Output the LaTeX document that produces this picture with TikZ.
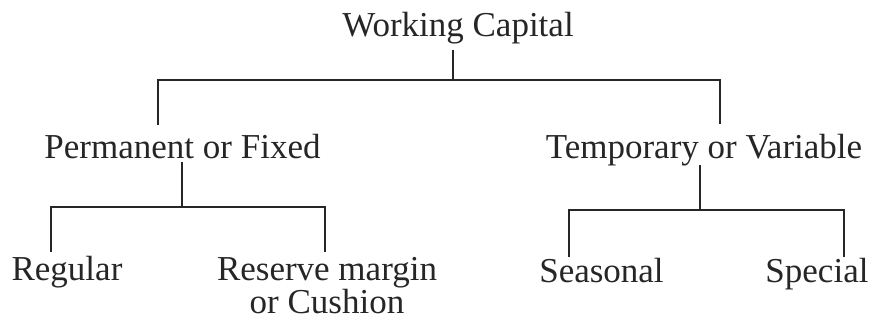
\documentclass[tikz,border=0pt]{standalone}
\usepackage{fontspec}
\setmainfont{Liberation Serif}
\usepackage{tikz}
\usetikzlibrary{positioning}
\tikzstyle{line} = [line width=1.1pt, black!85]
\tikzstyle{lbl} = [inner sep=0pt, anchor=base, font=\fontsize{17.5}{16.5}\selectfont, text=black!85]

\begin{document}
\begin{tikzpicture}[x=0.5pt, y=-0.5pt]
		\useasboundingbox (0,0) rectangle (869,329);
		\node (wc) [lbl] at (458,36) {Working Capital};
		\node (pf) [lbl] at (182.5,158) {Permanent or Fixed};
		\node (tv) [lbl] at (704,158) {Temporary or Variable};
		\node (rg) [lbl] at (67,280) {Regular};
		\node (rm) [lbl, align=center] at (327,313) {Reserve margin\\or Cushion};
		\node (se) [lbl] at (601.5,282) {Seasonal};
		\node (sp) [lbl] at (817,282) {Special};
		\coordinate (wcb) at (453,50);
		\coordinate (wcj) at (453,80);
		\coordinate (pft) at (158,125);
		\coordinate (tvt) at (720,124);
		\coordinate (pfb) at (182,162);
		\coordinate (pfj) at (182,207);
		\coordinate (rgt) at (51,252);
		\coordinate (rmt) at (325,252);
		\coordinate (tvb) at (700,165);
		\coordinate (tvj) at (700,210);
		\coordinate (set) at (569,257);
		\coordinate (spt) at (844,257);
		\draw [line] (wcb) -- (wcj);
		\draw [line] (pft) |- (wcj) -| (tvt);
		\draw [line] (pfb) -- (pfj);
		\draw [line] (rgt) |- (pfj) -| (rmt);
		\draw [line] (tvb) -- (tvj);
		\draw [line] (set) |- (tvj) -| (spt);
\end{tikzpicture}
\end{document}
